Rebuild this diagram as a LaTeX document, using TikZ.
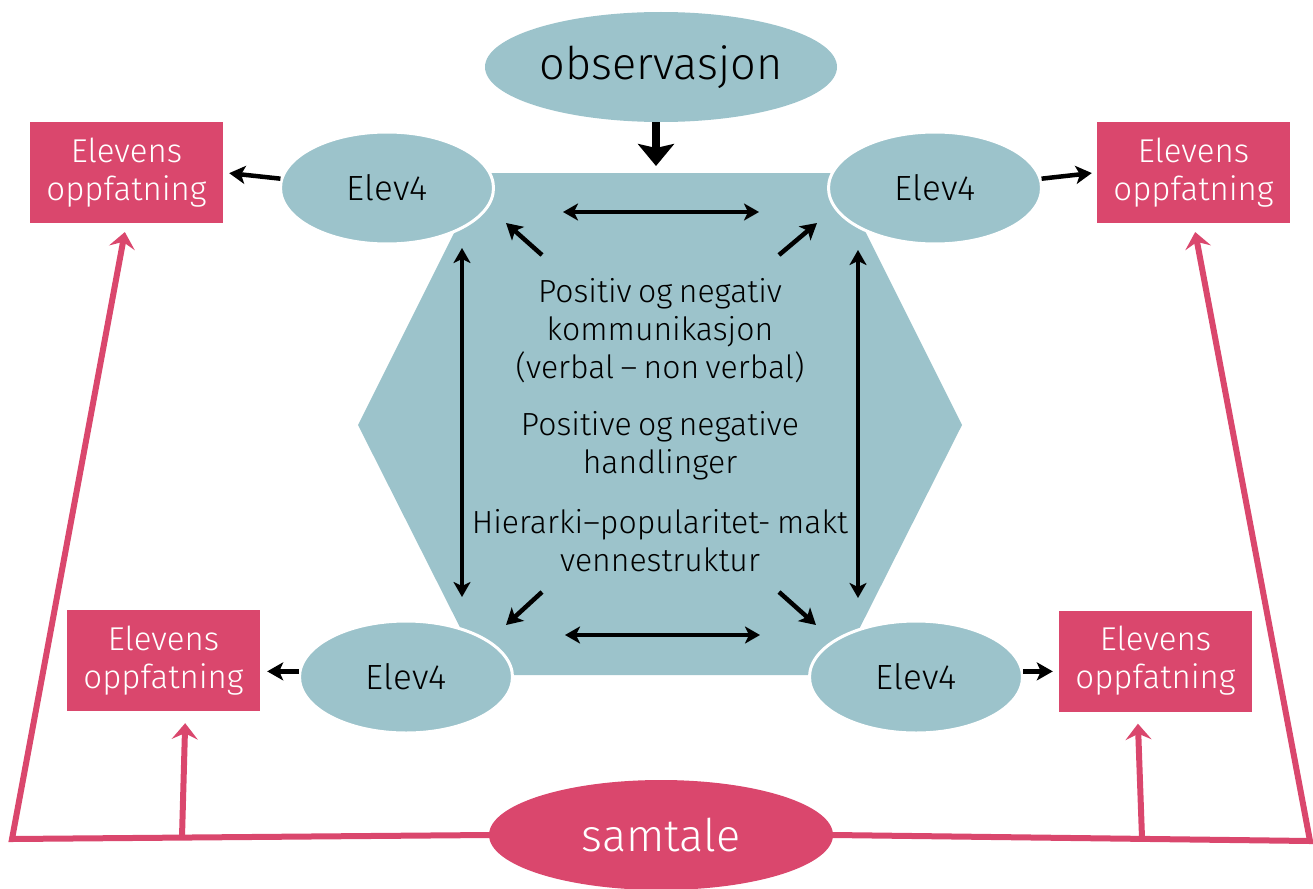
\documentclass[tikz,border=0pt]{standalone}
\usepackage{fontspec}
\setmainfont{Fira Sans}[UprightFont=* Light]
\usetikzlibrary{shapes.geometric, arrows.meta}
\definecolor{elevblue}{HTML}{9CC3CB}
\definecolor{samtalepink}{HTML}{DA476D}

\begin{document}
\begin{tikzpicture}[x=1pt, y=-1pt,
  elev/.style={ellipse, fill=elevblue, draw=white, line width=3pt, minimum width=213pt, minimum height=112pt, inner sep=0pt, font=\fontsize{35}{38}\selectfont},
  hoved/.style={ellipse, minimum width=352pt, minimum height=110pt, inner sep=0pt, font=\fontsize{45}{48}\selectfont},
  oppf/.style={rectangle, fill=samtalepink, text=white, minimum width=193pt, minimum height=101pt, inner sep=0pt, align=center, font=\fontsize{33}{38}\selectfont},
  midtekst/.style={align=center, inner sep=0pt, font={\fontsize{32}{38}\selectfont\spaceskip=0.2em plus 0.05em\relax}},
  arr/.style={line width=4.5pt, -{Stealth[length=16pt, width=18pt, inset=4pt]}},
  dblarr/.style={line width=4.5pt, {Stealth[length=15pt, width=17pt, inset=4pt]}-{Stealth[length=15pt, width=17pt, inset=4pt]}},
  pinkarr/.style={samtalepink, line width=6pt, -{Stealth[length=16pt, width=26pt, inset=6pt]}}]
\useasboundingbox (0,0) rectangle (1313,888);

\fill[elevblue] (358,425) -- (484,173) -- (836,173) -- (962,425) -- (836,675) -- (484,675) -- cycle;

\coordinate (tl) at (563,212);
\coordinate (tr) at (759,212);
\coordinate (bl) at (565,635);
\coordinate (br) at (760,635);
\coordinate (lt) at (462,248);
\coordinate (lb) at (462,597);
\coordinate (rt) at (858,250);
\coordinate (rb) at (858,598);
\coordinate (d1a) at (542,255);
\coordinate (d1b) at (506,223);
\coordinate (d2a) at (779,255);
\coordinate (d2b) at (817,223);
\coordinate (d3a) at (542,592);
\coordinate (d3b) at (506,625);
\coordinate (d4a) at (779,592);
\coordinate (d4b) at (816,625);

\draw[dblarr] (tl) -- (tr);
\draw[dblarr] (bl) -- (br);
\draw[dblarr] (lt) -- (lb);
\draw[dblarr] (rt) -- (rb);
\draw[arr] (d1a) -- (d1b);
\draw[arr] (d2a) -- (d2b);
\draw[arr] (d3a) -- (d3b);
\draw[arr] (d4a) -- (d4b);

\node[midtekst] (kom) at (660,331) {Positiv og negativ\\kommunikasjon\\(verbal -- non verbal)};
\node[midtekst] (han) at (660,446) {Positive og negative\\handlinger};
\node[midtekst] (hie) at (660,541) {Hierarki--popularitet- makt\\vennestruktur};

\node[elev] (e1) at (387,188) {Elev4};
\node[elev] (e2) at (935,188) {Elev4};
\node[elev] (e3) at (406,677) {Elev4};
\node[elev] (e4) at (916,677) {Elev4};

\node[hoved, fill=elevblue] (obs) at (661,67) {observasjon};
\coordinate (hextop) at (656,173);
\draw[line width=8pt, -{Stealth[length=22pt, width=36pt, inset=4pt]}, shorten >=7pt] (hextop |- obs.south) -- (hextop);

\node[oppf] (b1) at (126.5,172.5) {Elevens\\oppfatning};
\node[oppf] (b2) at (1193.5,172.5) {Elevens\\oppfatning};
\node[oppf] (b3) at (163.5,660.5) {Elevens\\oppfatning};
\node[oppf] (b4) at (1155.5,661) {Elevens\\oppfatning};

\draw[arr, shorten >=6pt] (e1.175) -- (b1.east);
\draw[arr, shorten >=5pt] (e2.5) -- (b2.west);
\draw[arr, shorten >=7pt] (e3.177) -- (e3.177 -| b3.east);
\draw[arr, shorten >=6pt] (e4.3) -- (e4.3 -| b4.west);

\node[hoved, fill=samtalepink, text=white, minimum width=344pt] (sam) at (661,835) {samtale};
\coordinate (cl) at (12,839);
\coordinate (cr) at (1310,841);
\coordinate (jl) at (182,837);
\coordinate (jr) at (1142,838);
\draw[pinkarr, shorten >=9pt] (sam.west) -- (cl) -- (b1.south);
\draw[pinkarr, shorten >=9pt] (sam.east) -- (cr) -- (b2.south);
\draw[pinkarr, shorten >=12pt] (jl) -- ([xshift=22pt]b3.south);
\draw[pinkarr, shorten >=12pt] (jr) -- ([xshift=-18pt]b4.south);

\end{tikzpicture}
\end{document}
